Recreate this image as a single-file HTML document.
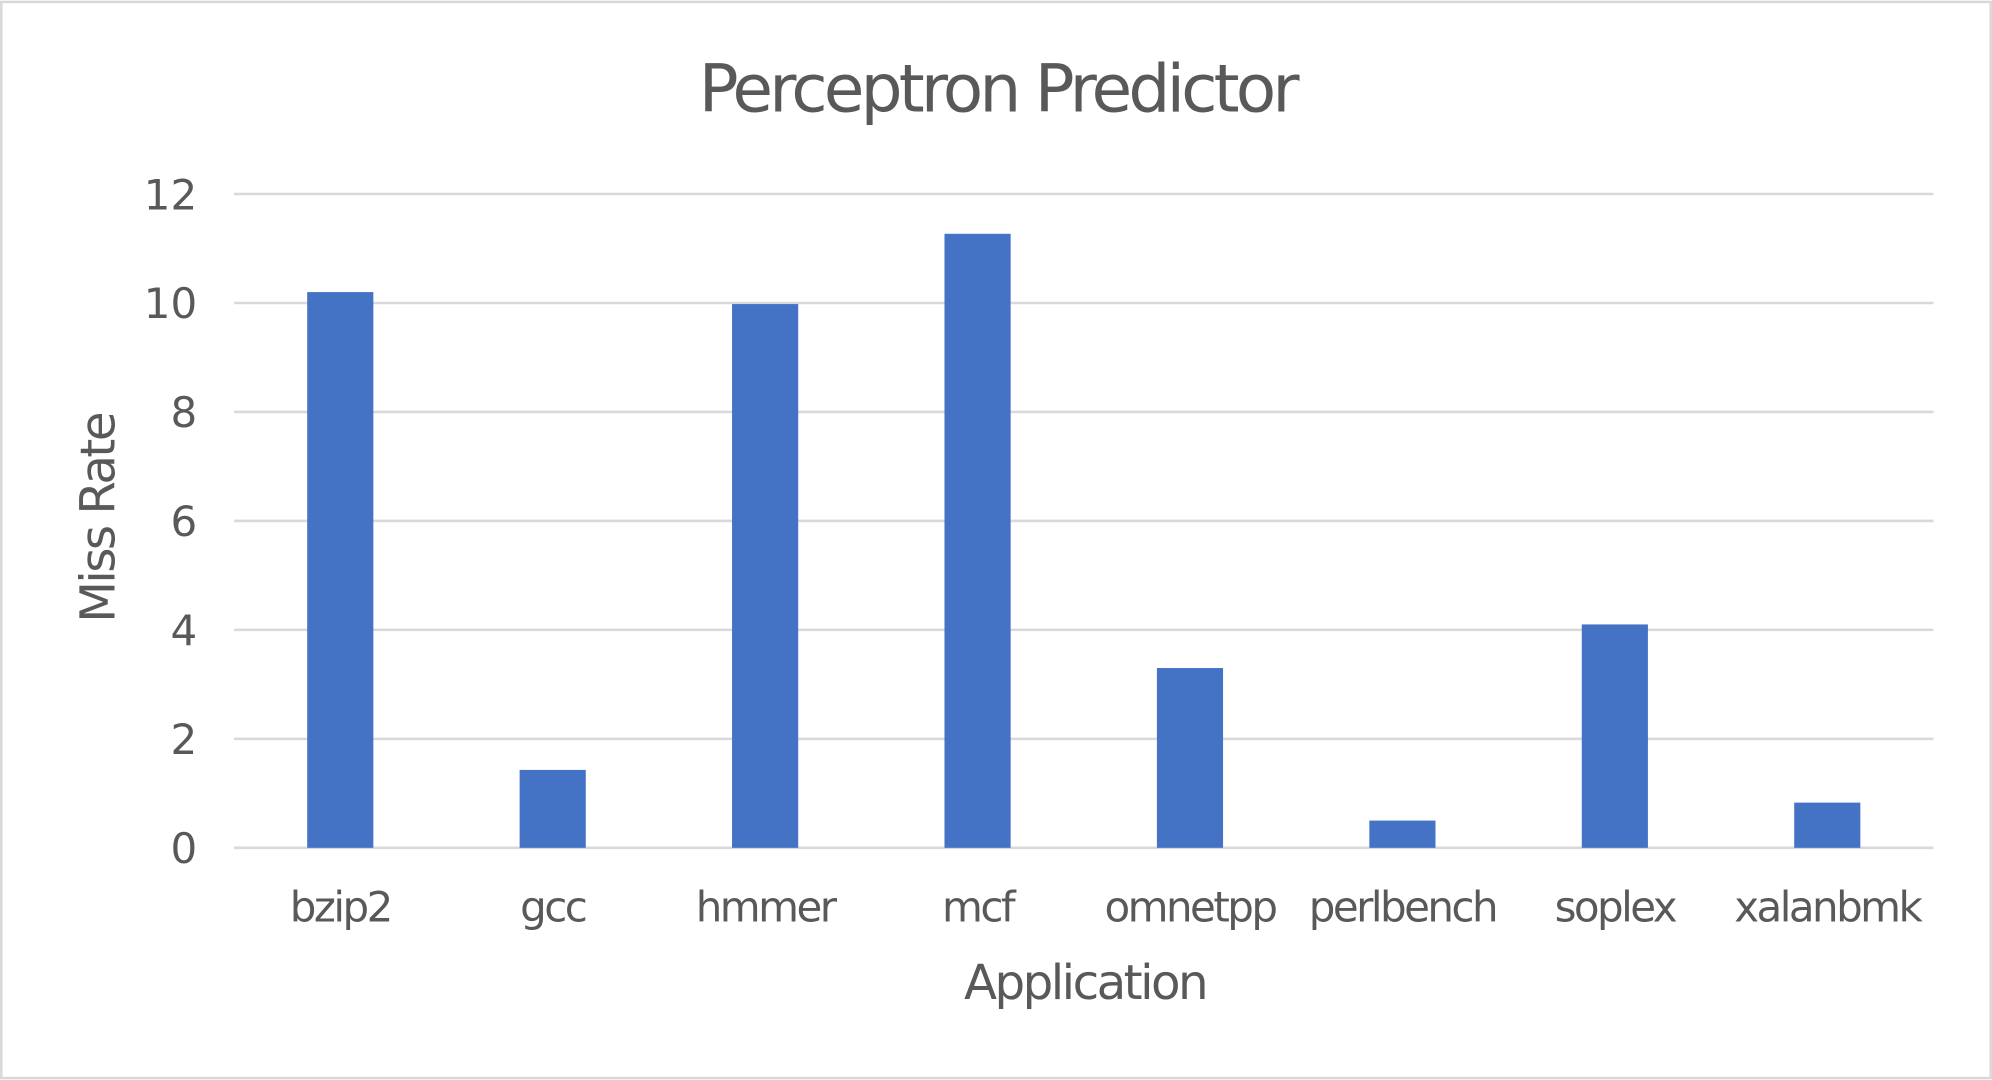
<!DOCTYPE html>
<html><head><meta charset="utf-8"><style>
html,body{margin:0;padding:0;background:#fff;}
svg{display:block;font-family:"DejaVu Sans","Liberation Sans",sans-serif;}
</style></head><body>
<svg id="chart" width="1992" height="1080" viewBox="0 0 1566 848" xmlns="http://www.w3.org/2000/svg">
<rect x="1" y="1" width="1564" height="846" fill="#fff" stroke="#d9d9d9" stroke-width="2"/>
<text x="784" y="87" text-anchor="middle" font-size="52" fill="#595959" letter-spacing="-3">Perceptron Predictor</text>
<g id="grid"></g>
<g id="bars"></g>
<g id="labels"></g>
<text transform="translate(90,407) rotate(-90)" text-anchor="middle" font-size="38" fill="#595959" letter-spacing="-2">Miss Rate</text>
<text x="853" y="785" text-anchor="middle" font-size="38" fill="#595959" letter-spacing="-2">Application</text>
</svg>
<script>
const categories = ["bzip2","gcc","hmmer","mcf","omnetpp","perlbench","soplex","xalanbmk"];
const missRate = [10.2, 1.43, 9.98, 11.27, 3.3, 0.5, 4.1, 0.83];
const yTicks = [0, 2, 4, 6, 8, 10, 12];

const NS = "http://www.w3.org/2000/svg";
const x0 = 184, x1 = 1520, yBase = 666, yTop = 152, yMax = 12;
const y = v => yBase - (v / yMax) * (yBase - yTop);
const band = (x1 - x0) / categories.length;
const xc = i => x0 + band * (i + 0.5);
const barW = 52;

const grid = document.getElementById('grid');
yTicks.forEach(t => {
  const l = document.createElementNS(NS, 'line');
  
  
  l.setAttribute('x1', x0); l.setAttribute('x2', x1);
  l.setAttribute('y1', y(t)); l.setAttribute('y2', y(t));
  l.setAttribute('stroke', '#d9d9d9'); l.setAttribute('stroke-width', '2');
  grid.appendChild(l);
  const tx = document.createElementNS(NS, 'text');
  
  
  tx.setAttribute('x', 155); tx.setAttribute('y', y(t) + 12);
  tx.setAttribute('text-anchor', 'end');
  tx.setAttribute('font-size', '33');
  tx.setAttribute('fill', '#595959');
  tx.textContent = t;
  grid.appendChild(tx);
});

const bars = document.getElementById('bars');
const labels = document.getElementById('labels');
categories.forEach((c, i) => {
  const r = document.createElementNS(NS, 'rect');
  
  
  r.setAttribute('x', xc(i) - barW / 2);
  r.setAttribute('y', y(missRate[i]));
  r.setAttribute('width', barW);
  r.setAttribute('height', yBase - y(missRate[i]));
  r.setAttribute('fill', '#4472c4');
  bars.appendChild(r);
  const tx = document.createElementNS(NS, 'text');
  
  
  tx.setAttribute('x', xc(i)); tx.setAttribute('y', 724);
  tx.setAttribute('text-anchor', 'middle');
  tx.setAttribute('font-size', '33');
  tx.setAttribute('letter-spacing', '-2');
  tx.setAttribute('fill', '#595959');
  tx.textContent = c;
  labels.appendChild(tx);
});
</script>
</body></html>
